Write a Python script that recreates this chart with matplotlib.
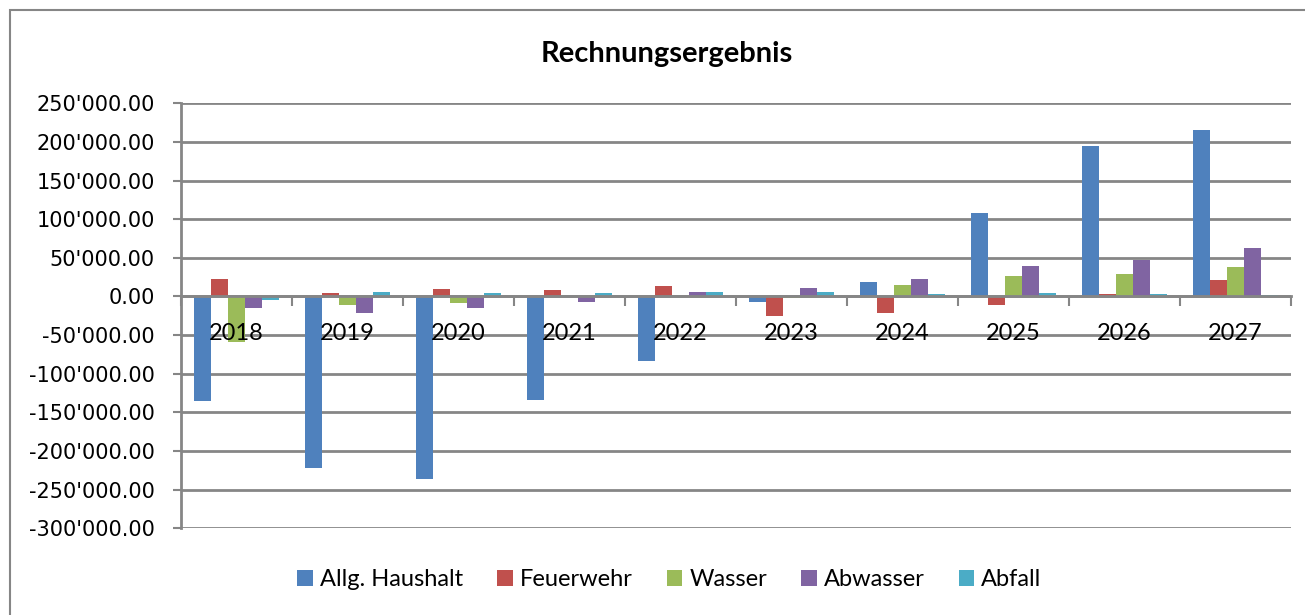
import matplotlib.pyplot as plt
import numpy as np
from matplotlib.ticker import FuncFormatter, FixedLocator
from matplotlib.patches import Rectangle

years = ['2018', '2019', '2020', '2021', '2022', '2023', '2024', '2025', '2026', '2027']
haushalt = [-135000, -222000, -236000, -133500, -83000, -7700, 19000, 108000, 195000, 216000]
feuerwehr = [22500, 4400, 9500, 9000, 13800, -25000, -21500, -11600, 3500, 21600]
wasser = [-58500, -11600, -8600, -1000, 0, -2500, 15500, 26700, 29300, 38000]
abwasser = [-15000, -21000, -15500, -7000, 5700, 10800, 22500, 39700, 47400, 63000]
abfall = [-4700, 5200, 4800, 4800, 5700, 5200, 3500, 4300, 3500, 2000]

series = [('Allg. Haushalt', haushalt, '#4F81BD'),
          ('Feuerwehr', feuerwehr, '#C0504D'),
          ('Wasser', wasser, '#9BBB59'),
          ('Abwasser', abwasser, '#8064A2'),
          ('Abfall', abfall, '#4BACC6')]

grey = '#868686'

fig = plt.figure(figsize=(13.05, 6.15), dpi=100)
ax = fig.add_axes([0.1387, 0.141, 0.9893 - 0.1387, 0.832 - 0.141])

x = np.arange(len(years))
w = 1 / 6.5
for i, (name, vals, col) in enumerate(series):
    ax.bar(x + (i - 2) * w, vals, width=w, color=col, label=name, zorder=3)

ax.set_xlim(-0.5, len(years) - 0.5)
ax.set_ylim(-300000, 250000)
ax.set_yticks(np.arange(-300000, 250001, 50000))
ax.yaxis.set_major_formatter(FuncFormatter(lambda v, p: f"{v:,.2f}".replace(',', "'")))
ax.tick_params(axis='y', direction='out', length=6, width=1.5, color=grey, pad=13,
               labelsize=15, labelfontfamily='DejaVu Sans')
ax.grid(axis='y', color=grey, linewidth=2, zorder=0)

# category axis sits on zero, labels drawn over the bars
ax.spines['bottom'].set_position(('data', 0))
ax.spines['bottom'].set_color(grey)
ax.spines['bottom'].set_linewidth(2)
ax.spines['bottom'].set_zorder(4)
ax.xaxis.set_zorder(5)
ax.xaxis.set_major_locator(FixedLocator(np.arange(-0.5, len(years), 1)))
ax.xaxis.set_major_formatter(FuncFormatter(lambda v, p: ''))
ax.xaxis.set_minor_locator(FixedLocator(x))
ax.set_xticklabels(years, minor=True)
ax.tick_params(axis='x', which='major', direction='out', length=7, width=1.5, color=grey)
ax.tick_params(axis='x', which='minor', length=0, pad=19, labelsize=17)
for lab in ax.get_xticklabels(minor=True):
    lab.set_family('Lato')

ax.spines['left'].set_color(grey)
ax.spines['left'].set_linewidth(2)
ax.spines['top'].set_visible(False)
ax.spines['right'].set_visible(False)

fig.text(0.511, 0.913, 'Rechnungsergebnis', ha='center', va='center',
         fontsize=21, fontweight='bold', family='Lato')

leg = fig.legend(loc='center', bbox_to_anchor=(0.513, 0.057), ncol=5, frameon=False,
                 handlelength=0.65, handleheight=0.65, handletextpad=0.3, columnspacing=1.45,
                 prop={'family': 'Lato', 'size': 17})

fig.patches.append(Rectangle((10 / 1305, -0.05), 1.1, 1 - 10 / 615 + 0.05,
                             transform=fig.transFigure, fill=False,
                             edgecolor=grey, linewidth=1.5))

fig.savefig('out.png', dpi=100)
